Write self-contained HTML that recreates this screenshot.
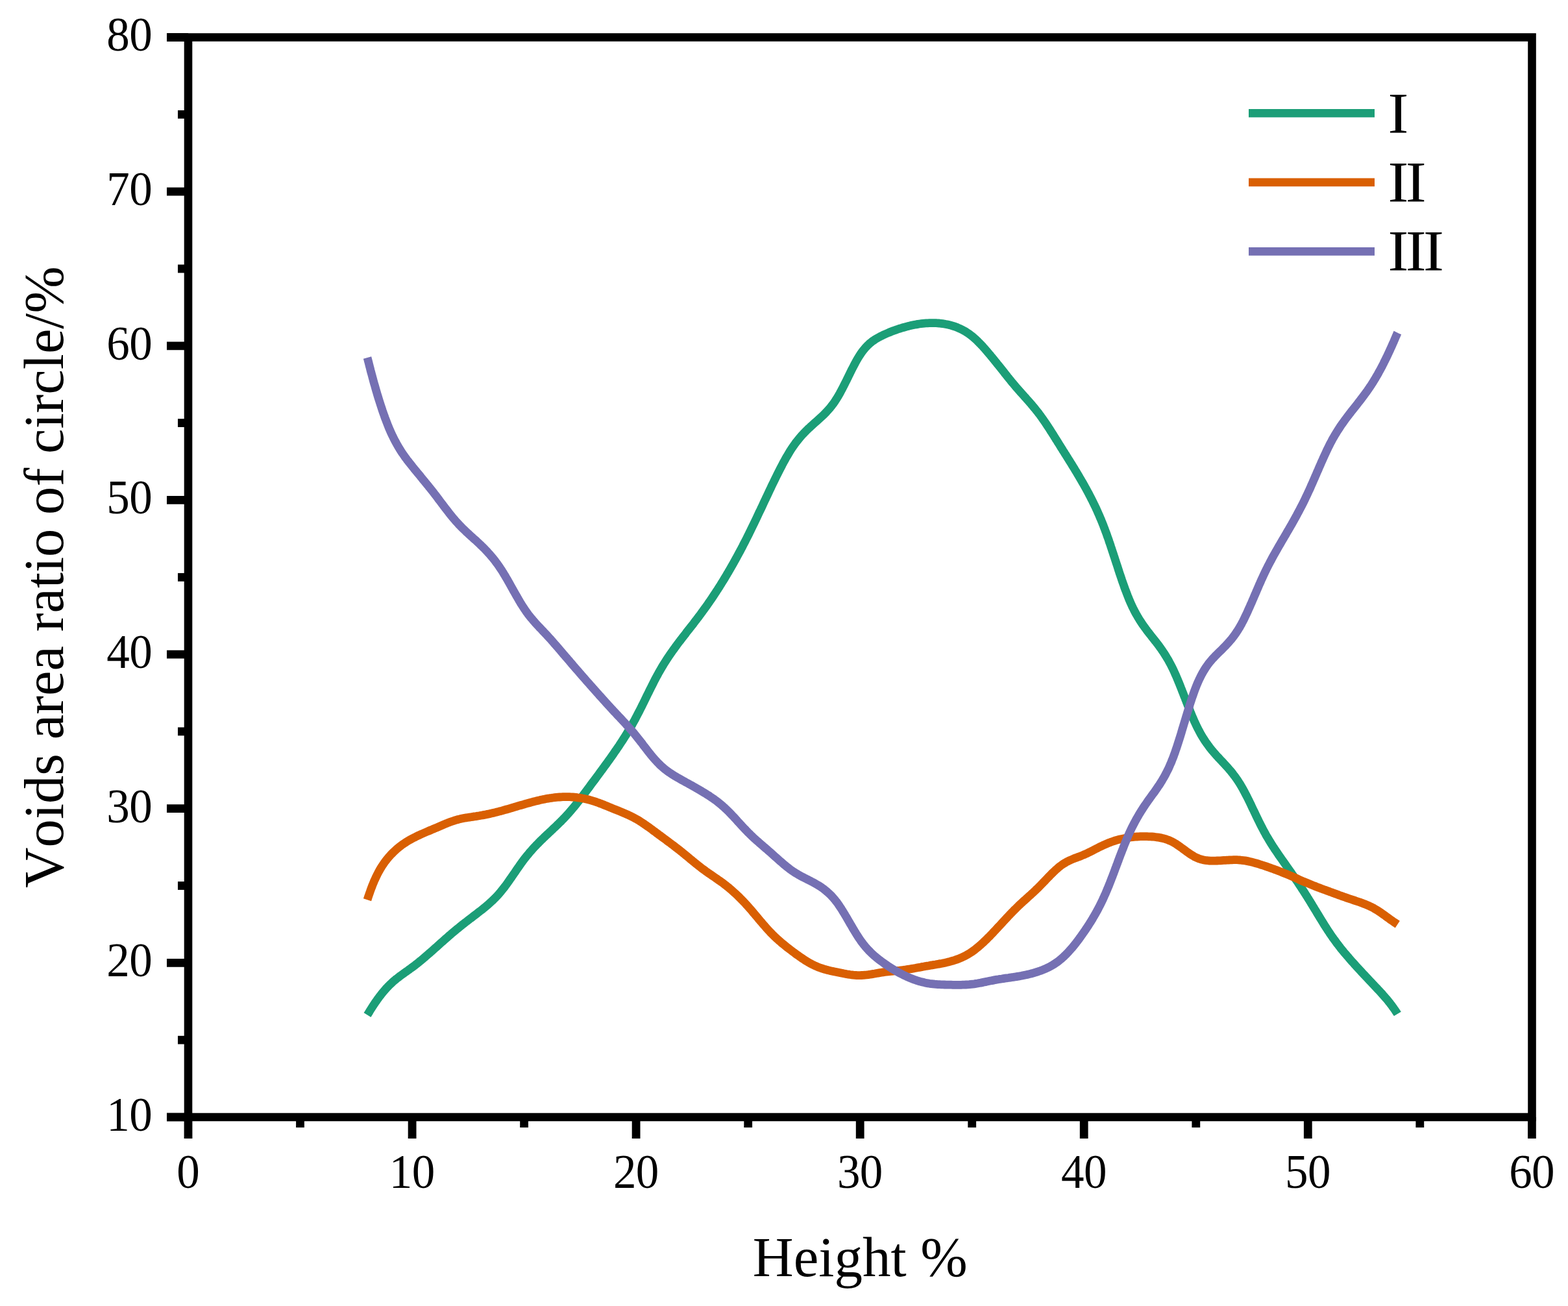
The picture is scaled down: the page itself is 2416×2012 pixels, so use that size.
<!DOCTYPE html>
<html><head><meta charset="utf-8"><style>
html,body{margin:0;padding:0;background:#fff;}
svg{display:block;}
.t{font-family:"Liberation Serif",serif;font-size:74px;fill:#000;font-kerning:none;}
.a{font-family:"Liberation Serif",serif;font-size:88px;fill:#000;font-kerning:none;}
.l{font-family:"Liberation Serif",serif;font-size:88.6px;fill:#000;}
</style></head><body>
<svg width="2416" height="2012" viewBox="0 0 2416 2012">
<rect width="2416" height="2012" fill="#fff"/>
<rect x="290.0" y="57.5" width="2070.5" height="1663.5" fill="none" stroke="#000" stroke-width="12.6"/>
<line x1="290.0" y1="1721" x2="290.0" y2="1754" stroke="#000" stroke-width="12.8"/>
<text transform="translate(290.00,1829.70) scale(0.960,1)" x="0.00" text-anchor="middle" class="t">0</text>
<line x1="462.5" y1="1721" x2="462.5" y2="1737" stroke="#000" stroke-width="12.8"/>
<line x1="635.1" y1="1721" x2="635.1" y2="1754" stroke="#000" stroke-width="12.8"/>
<text transform="translate(635.06,1829.70) scale(0.960,1)" x="-18.18 18.18" text-anchor="middle" class="t">10</text>
<line x1="807.6" y1="1721" x2="807.6" y2="1737" stroke="#000" stroke-width="12.8"/>
<line x1="980.1" y1="1721" x2="980.1" y2="1754" stroke="#000" stroke-width="12.8"/>
<text transform="translate(980.12,1829.70) scale(0.960,1)" x="-18.18 18.18" text-anchor="middle" class="t">20</text>
<line x1="1152.7" y1="1721" x2="1152.7" y2="1737" stroke="#000" stroke-width="12.8"/>
<line x1="1325.2" y1="1721" x2="1325.2" y2="1754" stroke="#000" stroke-width="12.8"/>
<text transform="translate(1325.18,1829.70) scale(0.960,1)" x="-18.18 18.18" text-anchor="middle" class="t">30</text>
<line x1="1497.7" y1="1721" x2="1497.7" y2="1737" stroke="#000" stroke-width="12.8"/>
<line x1="1670.2" y1="1721" x2="1670.2" y2="1754" stroke="#000" stroke-width="12.8"/>
<text transform="translate(1670.24,1829.70) scale(0.960,1)" x="-18.18 18.18" text-anchor="middle" class="t">40</text>
<line x1="1842.8" y1="1721" x2="1842.8" y2="1737" stroke="#000" stroke-width="12.8"/>
<line x1="2015.3" y1="1721" x2="2015.3" y2="1754" stroke="#000" stroke-width="12.8"/>
<text transform="translate(2015.30,1829.70) scale(0.960,1)" x="-18.18 18.18" text-anchor="middle" class="t">50</text>
<line x1="2187.8" y1="1721" x2="2187.8" y2="1737" stroke="#000" stroke-width="12.8"/>
<line x1="2360.4" y1="1721" x2="2360.4" y2="1754" stroke="#000" stroke-width="12.8"/>
<text transform="translate(2360.36,1829.70) scale(0.960,1)" x="-18.18 18.18" text-anchor="middle" class="t">60</text>
<line x1="257" y1="1721.0" x2="290" y2="1721.0" stroke="#000" stroke-width="12.8"/>
<text transform="translate(199.50,1741.80) scale(0.960,1)" x="-18.18 18.18" text-anchor="middle" class="t">10</text>
<line x1="274" y1="1602.2" x2="290" y2="1602.2" stroke="#000" stroke-width="12.8"/>
<line x1="257" y1="1483.4" x2="290" y2="1483.4" stroke="#000" stroke-width="12.8"/>
<text transform="translate(199.50,1504.16) scale(0.960,1)" x="-18.18 18.18" text-anchor="middle" class="t">20</text>
<line x1="274" y1="1364.5" x2="290" y2="1364.5" stroke="#000" stroke-width="12.8"/>
<line x1="257" y1="1245.7" x2="290" y2="1245.7" stroke="#000" stroke-width="12.8"/>
<text transform="translate(199.50,1266.52) scale(0.960,1)" x="-18.18 18.18" text-anchor="middle" class="t">30</text>
<line x1="274" y1="1126.9" x2="290" y2="1126.9" stroke="#000" stroke-width="12.8"/>
<line x1="257" y1="1008.1" x2="290" y2="1008.1" stroke="#000" stroke-width="12.8"/>
<text transform="translate(199.50,1028.88) scale(0.960,1)" x="-18.18 18.18" text-anchor="middle" class="t">40</text>
<line x1="274" y1="889.3" x2="290" y2="889.3" stroke="#000" stroke-width="12.8"/>
<line x1="257" y1="770.4" x2="290" y2="770.4" stroke="#000" stroke-width="12.8"/>
<text transform="translate(199.50,791.24) scale(0.960,1)" x="-18.18 18.18" text-anchor="middle" class="t">50</text>
<line x1="274" y1="651.6" x2="290" y2="651.6" stroke="#000" stroke-width="12.8"/>
<line x1="257" y1="532.8" x2="290" y2="532.8" stroke="#000" stroke-width="12.8"/>
<text transform="translate(199.50,553.60) scale(0.960,1)" x="-18.18 18.18" text-anchor="middle" class="t">60</text>
<line x1="274" y1="414.0" x2="290" y2="414.0" stroke="#000" stroke-width="12.8"/>
<line x1="257" y1="295.2" x2="290" y2="295.2" stroke="#000" stroke-width="12.8"/>
<text transform="translate(199.50,315.96) scale(0.960,1)" x="-18.18 18.18" text-anchor="middle" class="t">70</text>
<line x1="274" y1="176.3" x2="290" y2="176.3" stroke="#000" stroke-width="12.8"/>
<line x1="257" y1="57.5" x2="290" y2="57.5" stroke="#000" stroke-width="12.8"/>
<text transform="translate(199.50,78.32) scale(0.960,1)" x="-18.18 18.18" text-anchor="middle" class="t">80</text>
<path d="M566.0,1563.7 L567.3,1561.6 L568.7,1559.3 L570.0,1557.1 L571.4,1554.9 L572.7,1552.8 L574.1,1550.6 L575.6,1548.4 L577.0,1546.2 L578.4,1544.1 L579.9,1542.1 L581.4,1539.9 L582.9,1537.9 L584.4,1535.8 L586.0,1533.8 L587.6,1531.7 L589.1,1529.8 L590.8,1527.7 L592.5,1525.8 L594.1,1523.9 L595.9,1521.9 L597.6,1520.1 L599.4,1518.3 L601.2,1516.5 L603.0,1514.8 L604.9,1513.0 L606.8,1511.3 L608.8,1509.7 L610.8,1508.0 L612.8,1506.5 L614.8,1504.9 L616.8,1503.4 L618.9,1501.9 L621.0,1500.4 L623.0,1498.9 L625.1,1497.4 L627.2,1496.0 L629.2,1494.5 L631.3,1493.0 L633.3,1491.5 L635.4,1490.0 L637.5,1488.5 L639.5,1486.9 L641.5,1485.3 L643.5,1483.8 L645.5,1482.2 L647.5,1480.5 L649.5,1478.9 L651.4,1477.3 L653.4,1475.6 L655.3,1474.0 L657.2,1472.3 L659.1,1470.7 L661.0,1469.0 L663.0,1467.3 L664.9,1465.7 L666.8,1464.0 L668.7,1462.3 L670.6,1460.6 L672.5,1458.9 L674.4,1457.2 L676.3,1455.5 L678.2,1453.8 L680.1,1452.1 L682.0,1450.4 L683.9,1448.7 L685.8,1447.0 L687.7,1445.4 L689.6,1443.7 L691.5,1442.0 L693.4,1440.4 L695.3,1438.7 L697.2,1437.1 L699.2,1435.4 L701.2,1433.8 L703.2,1432.1 L705.2,1430.5 L707.2,1428.9 L709.1,1427.3 L711.1,1425.7 L713.1,1424.1 L715.1,1422.6 L717.1,1421.0 L719.1,1419.5 L721.0,1418.0 L723.0,1416.4 L725.1,1414.9 L727.2,1413.3 L729.2,1411.7 L731.3,1410.1 L733.3,1408.6 L735.3,1407.1 L737.2,1405.6 L739.2,1404.0 L741.2,1402.5 L743.2,1400.9 L745.2,1399.3 L747.2,1397.7 L749.1,1396.1 L751.1,1394.4 L753.0,1392.7 L754.9,1391.0 L756.8,1389.3 L758.7,1387.6 L760.5,1385.8 L762.3,1384.0 L764.1,1382.2 L765.9,1380.3 L767.6,1378.4 L769.3,1376.5 L771.0,1374.6 L772.6,1372.6 L774.2,1370.6 L775.8,1368.6 L777.4,1366.5 L778.9,1364.5 L780.4,1362.5 L781.9,1360.4 L783.4,1358.3 L784.9,1356.1 L786.4,1353.9 L787.9,1351.9 L789.3,1349.8 L790.7,1347.7 L792.2,1345.6 L793.6,1343.6 L795.0,1341.5 L796.4,1339.4 L797.9,1337.3 L799.3,1335.3 L800.8,1333.1 L802.3,1331.0 L803.8,1328.9 L805.3,1326.9 L806.8,1324.8 L808.4,1322.7 L810.0,1320.7 L811.6,1318.7 L813.2,1316.8 L814.9,1314.8 L816.5,1312.8 L818.2,1310.9 L819.9,1309.0 L821.6,1307.1 L823.3,1305.2 L825.1,1303.3 L826.8,1301.5 L828.6,1299.7 L830.4,1297.9 L832.2,1296.0 L834.1,1294.2 L835.9,1292.5 L837.7,1290.7 L839.5,1289.0 L841.4,1287.2 L843.2,1285.5 L845.0,1283.8 L846.8,1282.1 L848.7,1280.4 L850.5,1278.7 L852.3,1276.9 L854.1,1275.2 L856.0,1273.5 L857.8,1271.7 L859.6,1270.0 L861.4,1268.2 L863.3,1266.4 L865.1,1264.6 L866.9,1262.7 L868.7,1260.9 L870.4,1259.1 L872.2,1257.2 L873.9,1255.3 L875.6,1253.4 L877.3,1251.5 L879.0,1249.6 L880.6,1247.7 L882.3,1245.7 L884.0,1243.7 L885.6,1241.7 L887.2,1239.7 L888.7,1237.8 L890.3,1235.7 L891.9,1233.7 L893.5,1231.7 L895.1,1229.6 L896.7,1227.5 L898.3,1225.4 L899.8,1223.4 L901.3,1221.4 L902.8,1219.4 L904.3,1217.4 L905.8,1215.3 L907.3,1213.3 L908.8,1211.3 L910.3,1209.2 L911.8,1207.2 L913.3,1205.2 L914.9,1203.1 L916.4,1201.1 L917.9,1199.1 L919.4,1197.0 L920.9,1195.0 L922.4,1193.0 L923.9,1190.9 L925.4,1188.9 L926.9,1186.8 L928.4,1184.8 L929.9,1182.7 L931.4,1180.6 L932.9,1178.6 L934.5,1176.5 L936.0,1174.4 L937.5,1172.3 L939.0,1170.2 L940.5,1168.1 L942.0,1166.0 L943.5,1163.8 L945.0,1161.7 L946.5,1159.5 L947.9,1157.4 L949.4,1155.4 L950.8,1153.3 L952.2,1151.2 L953.7,1149.1 L955.1,1146.9 L956.5,1144.8 L957.9,1142.6 L959.4,1140.4 L960.8,1138.1 L962.2,1136.0 L963.5,1133.9 L964.9,1131.7 L966.2,1129.5 L967.5,1127.3 L968.9,1125.0 L970.2,1122.8 L971.5,1120.6 L972.8,1118.4 L974.1,1116.2 L975.3,1113.9 L976.6,1111.6 L977.9,1109.3 L979.1,1107.1 L980.2,1104.9 L981.4,1102.6 L982.6,1100.3 L983.8,1098.0 L985.0,1095.7 L986.2,1093.4 L987.4,1091.0 L988.6,1088.6 L989.8,1086.2 L990.9,1084.0 L992.0,1081.7 L993.1,1079.5 L994.2,1077.2 L995.3,1074.9 L996.4,1072.7 L997.5,1070.4 L998.7,1068.1 L999.8,1065.9 L1000.9,1063.6 L1002.0,1061.4 L1003.2,1059.0 L1004.4,1056.6 L1005.6,1054.3 L1006.8,1051.9 L1007.9,1049.6 L1009.1,1047.3 L1010.3,1045.0 L1011.5,1042.8 L1012.7,1040.6 L1014.0,1038.2 L1015.2,1035.9 L1016.5,1033.7 L1017.8,1031.5 L1019.1,1029.3 L1020.4,1027.0 L1021.8,1024.8 L1023.1,1022.6 L1024.5,1020.4 L1025.8,1018.3 L1027.2,1016.1 L1028.7,1013.9 L1030.1,1011.8 L1031.5,1009.7 L1032.9,1007.6 L1034.4,1005.5 L1035.9,1003.4 L1037.4,1001.3 L1038.9,999.2 L1040.4,997.1 L1041.9,995.1 L1043.4,993.0 L1044.9,991.0 L1046.4,989.0 L1048.0,987.0 L1049.6,984.9 L1051.2,982.8 L1052.8,980.8 L1054.4,978.7 L1056.0,976.7 L1057.5,974.6 L1059.1,972.6 L1060.7,970.6 L1062.3,968.5 L1063.9,966.5 L1065.5,964.4 L1067.1,962.4 L1068.7,960.4 L1070.2,958.3 L1071.8,956.2 L1073.4,954.2 L1075.0,952.1 L1076.6,950.0 L1078.1,948.0 L1079.6,946.0 L1081.1,943.9 L1082.6,941.9 L1084.1,939.8 L1085.6,937.7 L1087.2,935.6 L1088.7,933.5 L1090.2,931.4 L1091.7,929.2 L1093.1,927.1 L1094.5,925.1 L1096.0,923.0 L1097.4,920.9 L1098.8,918.7 L1100.2,916.6 L1101.7,914.4 L1103.1,912.2 L1104.5,910.0 L1106.0,907.8 L1107.3,905.7 L1108.7,903.6 L1110.0,901.5 L1111.4,899.3 L1112.7,897.1 L1114.1,894.9 L1115.4,892.7 L1116.8,890.5 L1118.1,888.3 L1119.5,886.0 L1120.8,883.7 L1122.1,881.6 L1123.3,879.4 L1124.6,877.2 L1125.9,875.0 L1127.2,872.8 L1128.4,870.6 L1129.7,868.3 L1131.0,866.1 L1132.2,863.8 L1133.5,861.5 L1134.8,859.2 L1136.0,856.9 L1137.3,854.6 L1138.5,852.3 L1139.7,850.1 L1140.9,847.9 L1142.1,845.6 L1143.3,843.4 L1144.5,841.1 L1145.6,838.8 L1146.8,836.5 L1148.0,834.2 L1149.2,831.9 L1150.4,829.5 L1151.6,827.1 L1152.8,824.8 L1154.0,822.4 L1155.1,820.1 L1156.2,817.9 L1157.3,815.6 L1158.4,813.3 L1159.5,811.0 L1160.6,808.7 L1161.8,806.4 L1162.9,804.1 L1164.0,801.8 L1165.1,799.5 L1166.2,797.1 L1167.3,794.8 L1168.4,792.4 L1169.5,790.1 L1170.6,787.7 L1171.8,785.4 L1172.9,783.0 L1174.0,780.7 L1175.1,778.3 L1176.2,775.9 L1177.3,773.6 L1178.4,771.2 L1179.5,768.9 L1180.6,766.5 L1181.8,764.1 L1182.9,761.8 L1184.0,759.4 L1185.1,757.1 L1186.2,754.7 L1187.3,752.4 L1188.4,750.1 L1189.5,747.7 L1190.6,745.4 L1191.8,743.1 L1192.9,740.8 L1194.0,738.5 L1195.1,736.2 L1196.2,734.0 L1197.3,731.7 L1198.5,729.3 L1199.7,727.0 L1200.9,724.6 L1202.1,722.3 L1203.3,720.0 L1204.5,717.7 L1205.6,715.5 L1206.8,713.2 L1208.1,710.9 L1209.4,708.6 L1210.6,706.3 L1211.9,704.1 L1213.2,701.9 L1214.5,699.7 L1215.8,697.5 L1217.1,695.3 L1218.5,693.1 L1219.9,690.9 L1221.4,688.8 L1222.8,686.7 L1224.3,684.6 L1225.8,682.5 L1227.4,680.4 L1229.0,678.4 L1230.6,676.4 L1232.2,674.4 L1233.9,672.5 L1235.6,670.6 L1237.3,668.7 L1239.1,666.9 L1240.8,665.1 L1242.6,663.3 L1244.4,661.5 L1246.3,659.7 L1248.2,658.0 L1250.1,656.2 L1252.0,654.5 L1253.9,652.8 L1255.8,651.1 L1257.7,649.4 L1259.6,647.7 L1261.5,646.0 L1263.4,644.3 L1265.3,642.6 L1267.1,640.9 L1269.0,639.1 L1270.8,637.3 L1272.5,635.5 L1274.3,633.6 L1276.0,631.7 L1277.7,629.8 L1279.4,627.8 L1281.0,625.8 L1282.5,623.7 L1284.1,621.7 L1285.6,619.6 L1287.0,617.5 L1288.4,615.3 L1289.8,613.1 L1291.1,610.9 L1292.4,608.7 L1293.7,606.5 L1294.9,604.2 L1296.1,602.0 L1297.3,599.7 L1298.5,597.5 L1299.7,595.1 L1300.9,592.8 L1302.1,590.4 L1303.3,588.0 L1304.4,585.8 L1305.5,583.5 L1306.6,581.3 L1307.7,579.0 L1308.8,576.8 L1309.9,574.5 L1311.1,572.1 L1312.3,569.7 L1313.5,567.4 L1314.7,565.1 L1315.9,562.8 L1317.1,560.5 L1318.3,558.3 L1319.5,556.0 L1320.8,553.8 L1322.1,551.6 L1323.4,549.4 L1324.8,547.2 L1326.2,545.1 L1327.7,542.9 L1329.2,540.9 L1330.8,538.8 L1332.5,536.8 L1334.1,535.0 L1335.9,533.1 L1337.7,531.3 L1339.6,529.5 L1341.5,527.9 L1343.5,526.3 L1345.6,524.8 L1347.7,523.4 L1349.8,522.0 L1352.1,520.7 L1354.3,519.5 L1356.5,518.3 L1358.8,517.2 L1361.1,516.1 L1363.4,515.0 L1365.7,514.0 L1368.0,513.0 L1370.4,512.0 L1372.8,511.0 L1375.2,510.1 L1377.5,509.2 L1379.9,508.4 L1382.3,507.5 L1384.7,506.7 L1387.1,506.0 L1389.5,505.2 L1392.0,504.5 L1394.4,503.8 L1396.9,503.1 L1399.4,502.5 L1401.8,501.9 L1404.3,501.3 L1406.7,500.8 L1409.2,500.3 L1411.7,499.9 L1414.2,499.4 L1416.7,499.0 L1419.3,498.7 L1421.8,498.4 L1424.4,498.1 L1426.9,497.9 L1429.4,497.8 L1432.0,497.7 L1434.5,497.6 L1437.1,497.6 L1439.6,497.6 L1442.1,497.7 L1444.7,497.8 L1447.2,498.0 L1449.8,498.3 L1452.3,498.6 L1454.8,499.0 L1457.4,499.5 L1459.8,499.9 L1462.3,500.5 L1464.8,501.1 L1467.2,501.8 L1469.7,502.6 L1472.1,503.4 L1474.4,504.3 L1476.8,505.3 L1479.1,506.3 L1481.4,507.4 L1483.7,508.6 L1485.9,509.8 L1488.1,511.1 L1490.2,512.5 L1492.4,513.9 L1494.4,515.4 L1496.5,517.0 L1498.5,518.6 L1500.5,520.2 L1502.4,521.9 L1504.3,523.7 L1506.1,525.4 L1507.9,527.2 L1509.8,529.1 L1511.5,530.9 L1513.3,532.7 L1515.0,534.7 L1516.7,536.6 L1518.4,538.5 L1520.1,540.4 L1521.7,542.3 L1523.4,544.3 L1525.1,546.3 L1526.7,548.3 L1528.4,550.3 L1530.0,552.3 L1531.6,554.2 L1533.2,556.2 L1534.8,558.2 L1536.3,560.2 L1537.9,562.1 L1539.5,564.1 L1541.1,566.1 L1542.7,568.1 L1544.3,570.1 L1545.9,572.1 L1547.5,574.1 L1549.0,576.1 L1550.6,578.1 L1552.2,580.1 L1553.8,582.0 L1555.4,584.0 L1557.0,585.9 L1558.6,587.9 L1560.2,589.9 L1561.9,591.9 L1563.6,593.9 L1565.2,595.8 L1566.9,597.8 L1568.6,599.7 L1570.2,601.6 L1571.9,603.5 L1573.6,605.3 L1575.2,607.2 L1577.0,609.1 L1578.7,611.1 L1580.5,613.0 L1582.1,614.9 L1583.8,616.8 L1585.5,618.7 L1587.1,620.6 L1588.8,622.5 L1590.5,624.5 L1592.1,626.5 L1593.8,628.5 L1595.4,630.4 L1597.0,632.4 L1598.6,634.4 L1600.2,636.5 L1601.7,638.5 L1603.2,640.5 L1604.7,642.6 L1606.2,644.7 L1607.7,646.9 L1609.1,648.9 L1610.6,651.0 L1612.0,653.1 L1613.4,655.3 L1614.8,657.4 L1616.3,659.6 L1617.7,661.8 L1619.1,664.1 L1620.5,666.2 L1621.8,668.3 L1623.2,670.4 L1624.5,672.6 L1625.9,674.7 L1627.2,676.9 L1628.6,679.0 L1629.9,681.2 L1631.3,683.4 L1632.6,685.5 L1634.0,687.7 L1635.3,689.9 L1636.7,692.0 L1638.0,694.2 L1639.4,696.3 L1640.7,698.5 L1642.1,700.6 L1643.4,702.8 L1644.8,704.9 L1646.1,707.1 L1647.5,709.3 L1648.8,711.4 L1650.2,713.6 L1651.5,715.8 L1652.9,718.0 L1654.2,720.1 L1655.6,722.3 L1656.9,724.6 L1658.3,726.8 L1659.6,729.0 L1661.0,731.3 L1662.3,733.5 L1663.6,735.8 L1664.9,738.0 L1666.2,740.2 L1667.5,742.4 L1668.7,744.6 L1670.0,746.8 L1671.3,749.1 L1672.5,751.3 L1673.8,753.6 L1675.1,756.0 L1676.3,758.2 L1677.5,760.4 L1678.6,762.6 L1679.8,764.9 L1681.0,767.2 L1682.2,769.6 L1683.4,771.9 L1684.5,774.2 L1685.6,776.5 L1686.7,778.8 L1687.9,781.1 L1689.0,783.5 L1690.1,786.0 L1691.1,788.2 L1692.1,790.6 L1693.2,792.9 L1694.2,795.3 L1695.2,797.7 L1696.3,800.2 L1697.3,802.7 L1698.3,805.0 L1699.2,807.4 L1700.2,809.8 L1701.1,812.3 L1702.1,814.8 L1703.0,817.3 L1703.9,819.7 L1704.8,822.1 L1705.6,824.5 L1706.5,826.9 L1707.4,829.4 L1708.3,831.9 L1709.1,834.5 L1710.0,837.0 L1710.9,839.6 L1711.7,842.2 L1712.5,844.6 L1713.3,847.0 L1714.1,849.4 L1714.9,851.8 L1715.7,854.3 L1716.5,856.7 L1717.3,859.1 L1718.1,861.6 L1718.9,864.0 L1719.7,866.4 L1720.5,868.9 L1721.3,871.3 L1722.1,873.7 L1722.9,876.2 L1723.6,878.6 L1724.4,881.0 L1725.2,883.4 L1726.0,885.8 L1726.9,888.4 L1727.8,891.0 L1728.6,893.5 L1729.5,896.1 L1730.4,898.6 L1731.3,901.1 L1732.1,903.5 L1733.0,906.0 L1733.9,908.4 L1734.8,910.7 L1735.7,913.2 L1736.7,915.7 L1737.6,918.1 L1738.6,920.5 L1739.5,922.8 L1740.6,925.3 L1741.6,927.7 L1742.6,930.0 L1743.7,932.4 L1744.8,934.8 L1745.9,937.0 L1747.1,939.4 L1748.3,941.7 L1749.5,944.0 L1750.8,946.3 L1752.1,948.5 L1753.3,950.7 L1754.7,953.0 L1756.0,955.1 L1757.4,957.3 L1758.8,959.4 L1760.2,961.6 L1761.7,963.6 L1763.2,965.7 L1764.7,967.8 L1766.2,969.9 L1767.7,971.9 L1769.3,973.9 L1770.9,976.0 L1772.5,978.0 L1774.0,980.0 L1775.6,982.0 L1777.2,984.0 L1778.8,986.0 L1780.4,988.1 L1782.0,990.1 L1783.6,992.2 L1785.1,994.2 L1786.6,996.2 L1788.1,998.3 L1789.6,1000.4 L1791.0,1002.5 L1792.5,1004.6 L1793.9,1006.8 L1795.3,1009.0 L1796.7,1011.2 L1798.0,1013.4 L1799.3,1015.6 L1800.6,1017.8 L1801.8,1020.1 L1803.0,1022.3 L1804.2,1024.5 L1805.4,1026.9 L1806.6,1029.2 L1807.7,1031.5 L1808.8,1033.9 L1809.9,1036.3 L1810.9,1038.6 L1812.0,1041.0 L1813.0,1043.4 L1814.0,1045.8 L1815.1,1048.3 L1816.0,1050.6 L1817.0,1052.9 L1817.9,1055.3 L1818.9,1057.7 L1819.8,1060.1 L1820.8,1062.5 L1821.7,1064.9 L1822.7,1067.4 L1823.6,1069.8 L1824.6,1072.3 L1825.6,1074.7 L1826.5,1077.2 L1827.5,1079.6 L1828.4,1082.1 L1829.4,1084.5 L1830.3,1086.9 L1831.3,1089.4 L1832.2,1091.7 L1833.2,1094.1 L1834.1,1096.5 L1835.1,1098.8 L1836.1,1101.3 L1837.1,1103.8 L1838.2,1106.2 L1839.2,1108.6 L1840.2,1110.9 L1841.3,1113.2 L1842.4,1115.6 L1843.5,1117.9 L1844.6,1120.2 L1845.8,1122.6 L1847.0,1124.9 L1848.2,1127.1 L1849.4,1129.5 L1850.7,1131.7 L1852.0,1133.9 L1853.3,1136.1 L1854.7,1138.3 L1856.1,1140.5 L1857.5,1142.6 L1859.0,1144.7 L1860.5,1146.8 L1862.0,1148.9 L1863.5,1150.9 L1865.1,1152.9 L1866.7,1154.9 L1868.3,1156.9 L1870.0,1158.9 L1871.7,1160.8 L1873.3,1162.7 L1875.1,1164.7 L1876.8,1166.6 L1878.6,1168.4 L1880.3,1170.3 L1882.1,1172.2 L1883.8,1174.0 L1885.6,1175.9 L1887.3,1177.8 L1889.0,1179.7 L1890.8,1181.6 L1892.5,1183.5 L1894.1,1185.4 L1895.8,1187.3 L1897.5,1189.4 L1899.0,1191.3 L1900.6,1193.4 L1902.2,1195.4 L1903.7,1197.5 L1905.2,1199.6 L1906.7,1201.7 L1908.1,1203.9 L1909.5,1206.1 L1910.9,1208.3 L1912.2,1210.5 L1913.5,1212.7 L1914.8,1214.9 L1916.0,1217.2 L1917.2,1219.4 L1918.4,1221.7 L1919.6,1224.0 L1920.8,1226.3 L1922.0,1228.6 L1923.2,1231.0 L1924.3,1233.3 L1925.4,1235.5 L1926.5,1237.8 L1927.6,1240.1 L1928.7,1242.4 L1929.8,1244.8 L1930.9,1247.1 L1932.1,1249.4 L1933.2,1251.7 L1934.3,1254.1 L1935.4,1256.4 L1936.5,1258.7 L1937.6,1261.0 L1938.7,1263.3 L1939.8,1265.5 L1940.9,1267.8 L1942.1,1270.2 L1943.3,1272.5 L1944.5,1274.8 L1945.7,1277.1 L1946.9,1279.4 L1948.1,1281.6 L1949.4,1283.9 L1950.6,1286.2 L1951.9,1288.4 L1953.2,1290.6 L1954.5,1292.8 L1955.9,1295.1 L1957.2,1297.3 L1958.6,1299.5 L1959.9,1301.6 L1961.3,1303.8 L1962.8,1306.0 L1964.2,1308.2 L1965.6,1310.3 L1967.1,1312.4 L1968.5,1314.5 L1969.9,1316.6 L1971.3,1318.7 L1972.9,1320.8 L1974.4,1323.0 L1975.9,1325.1 L1977.4,1327.2 L1978.9,1329.4 L1980.4,1331.5 L1981.9,1333.6 L1983.4,1335.8 L1984.9,1337.9 L1986.4,1340.1 L1987.9,1342.2 L1989.4,1344.3 L1990.8,1346.4 L1992.2,1348.4 L1993.6,1350.5 L1995.1,1352.6 L1996.5,1354.7 L1997.9,1356.8 L1999.4,1358.9 L2000.8,1361.1 L2002.2,1363.2 L2003.6,1365.4 L2005.1,1367.5 L2006.5,1369.7 L2007.9,1371.9 L2009.4,1374.1 L2010.8,1376.4 L2012.1,1378.5 L2013.5,1380.6 L2014.8,1382.8 L2016.2,1384.9 L2017.5,1387.1 L2018.9,1389.3 L2020.2,1391.5 L2021.6,1393.7 L2022.9,1395.9 L2024.3,1398.2 L2025.6,1400.4 L2027.0,1402.6 L2028.3,1404.8 L2029.7,1407.1 L2031.0,1409.3 L2032.4,1411.5 L2033.7,1413.7 L2035.1,1415.9 L2036.4,1418.1 L2037.8,1420.3 L2039.1,1422.5 L2040.5,1424.7 L2041.8,1426.8 L2043.2,1428.9 L2044.6,1431.1 L2046.0,1433.3 L2047.5,1435.5 L2048.9,1437.6 L2050.3,1439.7 L2051.7,1441.8 L2053.2,1444.0 L2054.8,1446.1 L2056.3,1448.2 L2057.8,1450.2 L2059.3,1452.3 L2060.8,1454.3 L2062.4,1456.3 L2064.0,1458.4 L2065.5,1460.4 L2067.1,1462.4 L2068.7,1464.3 L2070.3,1466.3 L2072.0,1468.3 L2073.6,1470.2 L2075.3,1472.2 L2077.0,1474.1 L2078.6,1476.1 L2080.3,1478.0 L2082.0,1479.9 L2083.6,1481.7 L2085.3,1483.6 L2087.1,1485.6 L2088.8,1487.5 L2090.5,1489.4 L2092.3,1491.3 L2094.0,1493.2 L2095.8,1495.1 L2097.5,1497.0 L2099.3,1498.9 L2101.0,1500.8 L2102.8,1502.6 L2104.5,1504.5 L2106.3,1506.3 L2108.0,1508.2 L2109.8,1510.1 L2111.5,1511.9 L2113.2,1513.7 L2115.0,1515.6 L2116.7,1517.4 L2118.5,1519.3 L2120.2,1521.1 L2122.0,1523.0 L2123.7,1524.8 L2125.5,1526.7 L2127.2,1528.6 L2129.0,1530.5 L2130.7,1532.5 L2132.4,1534.4 L2134.0,1536.3 L2135.7,1538.2 L2137.4,1540.2 L2139.0,1542.1 L2140.5,1544.1 L2142.1,1546.1 L2143.7,1548.2 L2145.2,1550.2 L2146.7,1552.3 L2148.2,1554.4 L2149.7,1556.5 L2151.1,1558.6 L2152.5,1560.7 L2153.3,1562.0" fill="none" stroke="#1b9e77" stroke-width="12.8" stroke-linejoin="round"/>
<path d="M566.0,1386.3 L566.8,1383.8 L567.6,1381.3 L568.4,1378.9 L569.3,1376.3 L570.2,1373.8 L571.0,1371.4 L571.9,1369.0 L572.9,1366.5 L573.8,1364.0 L574.8,1361.6 L575.8,1359.2 L576.8,1356.7 L577.9,1354.4 L579.0,1352.0 L580.1,1349.7 L581.2,1347.4 L582.4,1345.1 L583.6,1342.8 L584.9,1340.5 L586.1,1338.4 L587.5,1336.1 L588.8,1334.0 L590.3,1331.8 L591.7,1329.7 L593.2,1327.6 L594.7,1325.7 L596.3,1323.6 L598.0,1321.6 L599.6,1319.7 L601.4,1317.7 L603.1,1315.9 L604.9,1314.1 L606.7,1312.3 L608.5,1310.6 L610.4,1308.8 L612.3,1307.2 L614.3,1305.6 L616.3,1304.0 L618.3,1302.4 L620.4,1300.9 L622.5,1299.5 L624.6,1298.1 L626.8,1296.7 L628.9,1295.4 L631.1,1294.1 L633.3,1292.9 L635.6,1291.7 L637.8,1290.5 L640.1,1289.4 L642.4,1288.2 L644.7,1287.1 L647.0,1286.1 L649.3,1285.0 L651.6,1284.0 L653.9,1283.0 L656.2,1282.0 L658.5,1281.0 L660.9,1280.0 L663.3,1279.0 L665.6,1278.0 L668.0,1277.0 L670.3,1276.0 L672.6,1275.1 L674.9,1274.1 L677.2,1273.1 L679.5,1272.1 L681.8,1271.1 L684.1,1270.1 L686.5,1269.1 L688.9,1268.2 L691.3,1267.2 L693.7,1266.3 L696.0,1265.5 L698.4,1264.7 L700.8,1263.9 L703.3,1263.2 L705.7,1262.5 L708.2,1261.9 L710.6,1261.3 L713.1,1260.8 L715.6,1260.3 L718.1,1259.9 L720.6,1259.5 L723.2,1259.1 L725.7,1258.7 L728.3,1258.3 L730.8,1257.9 L733.3,1257.6 L735.9,1257.2 L738.4,1256.8 L741.0,1256.3 L743.5,1255.9 L746.0,1255.4 L748.4,1254.9 L750.9,1254.4 L753.3,1253.9 L755.8,1253.4 L758.3,1252.8 L760.7,1252.2 L763.2,1251.6 L765.6,1251.0 L768.1,1250.4 L770.6,1249.7 L773.0,1249.1 L775.5,1248.4 L777.9,1247.7 L780.4,1247.0 L782.9,1246.3 L785.3,1245.6 L787.8,1244.9 L790.3,1244.1 L792.7,1243.4 L795.2,1242.7 L797.6,1241.9 L800.1,1241.2 L802.6,1240.5 L805.0,1239.8 L807.5,1239.1 L809.9,1238.3 L812.4,1237.6 L814.9,1237.0 L817.3,1236.3 L819.8,1235.6 L822.2,1235.0 L824.7,1234.4 L827.2,1233.8 L829.6,1233.2 L832.1,1232.6 L834.5,1232.1 L837.0,1231.5 L839.5,1231.1 L841.9,1230.6 L844.5,1230.1 L847.0,1229.7 L849.5,1229.4 L852.1,1229.0 L854.6,1228.7 L857.2,1228.4 L859.7,1228.2 L862.2,1228.0 L864.8,1227.8 L867.3,1227.7 L869.9,1227.7 L872.4,1227.6 L874.9,1227.7 L877.5,1227.7 L880.0,1227.8 L882.6,1228.0 L885.1,1228.2 L887.6,1228.4 L890.2,1228.8 L892.7,1229.1 L895.2,1229.5 L897.8,1230.0 L900.2,1230.4 L902.7,1231.0 L905.2,1231.5 L907.6,1232.2 L910.1,1232.9 L912.6,1233.6 L915.0,1234.3 L917.4,1235.1 L919.8,1236.0 L922.2,1236.8 L924.5,1237.7 L926.9,1238.6 L929.3,1239.5 L931.7,1240.5 L934.1,1241.4 L936.4,1242.4 L938.8,1243.4 L941.2,1244.3 L943.6,1245.3 L946.0,1246.3 L948.3,1247.2 L950.7,1248.2 L953.1,1249.1 L955.5,1250.1 L957.9,1251.1 L960.2,1252.1 L962.6,1253.1 L964.9,1254.1 L967.2,1255.1 L969.5,1256.2 L971.8,1257.3 L974.1,1258.4 L976.4,1259.6 L978.6,1260.8 L980.8,1262.0 L983.0,1263.3 L985.2,1264.6 L987.3,1266.0 L989.5,1267.4 L991.6,1268.8 L993.7,1270.3 L995.8,1271.7 L997.9,1273.2 L999.9,1274.6 L1002.0,1276.1 L1004.1,1277.6 L1006.1,1279.2 L1008.2,1280.7 L1010.2,1282.2 L1012.3,1283.8 L1014.4,1285.3 L1016.4,1286.8 L1018.5,1288.3 L1020.6,1289.9 L1022.6,1291.4 L1024.7,1292.9 L1026.8,1294.4 L1028.8,1296.0 L1030.9,1297.5 L1032.9,1299.0 L1035.0,1300.6 L1037.1,1302.1 L1039.1,1303.7 L1041.2,1305.3 L1043.2,1306.8 L1045.2,1308.4 L1047.2,1309.9 L1049.1,1311.5 L1051.1,1313.1 L1053.1,1314.7 L1055.1,1316.3 L1057.1,1318.0 L1059.1,1319.6 L1061.0,1321.2 L1063.0,1322.9 L1065.0,1324.5 L1067.0,1326.2 L1069.0,1327.8 L1071.0,1329.4 L1072.9,1331.0 L1074.9,1332.6 L1076.9,1334.2 L1078.9,1335.7 L1080.9,1337.3 L1082.9,1338.8 L1085.0,1340.3 L1087.1,1341.8 L1089.1,1343.3 L1091.2,1344.8 L1093.3,1346.2 L1095.3,1347.6 L1097.5,1349.1 L1099.6,1350.5 L1101.8,1352.0 L1103.8,1353.4 L1105.9,1354.8 L1107.9,1356.3 L1110.0,1357.7 L1112.1,1359.2 L1114.1,1360.7 L1116.2,1362.3 L1118.2,1363.8 L1120.2,1365.4 L1122.2,1367.0 L1124.1,1368.6 L1126.1,1370.3 L1128.0,1372.0 L1129.9,1373.7 L1131.8,1375.4 L1133.7,1377.1 L1135.6,1378.9 L1137.4,1380.6 L1139.2,1382.4 L1141.0,1384.2 L1142.9,1386.1 L1144.6,1387.9 L1146.4,1389.7 L1148.1,1391.6 L1149.8,1393.5 L1151.6,1395.4 L1153.3,1397.3 L1154.9,1399.2 L1156.6,1401.1 L1158.3,1403.0 L1159.9,1405.0 L1161.6,1407.0 L1163.3,1408.9 L1164.9,1410.9 L1166.6,1412.9 L1168.3,1414.9 L1169.9,1416.9 L1171.6,1418.9 L1173.3,1420.8 L1174.9,1422.8 L1176.6,1424.7 L1178.3,1426.6 L1179.9,1428.5 L1181.6,1430.4 L1183.3,1432.3 L1185.1,1434.2 L1186.8,1436.1 L1188.6,1437.9 L1190.4,1439.7 L1192.2,1441.5 L1194.1,1443.3 L1195.9,1445.0 L1197.8,1446.8 L1199.7,1448.5 L1201.6,1450.1 L1203.5,1451.8 L1205.5,1453.5 L1207.5,1455.1 L1209.5,1456.7 L1211.4,1458.3 L1213.4,1459.9 L1215.4,1461.4 L1217.5,1463.0 L1219.5,1464.5 L1221.6,1466.1 L1223.7,1467.6 L1225.7,1469.2 L1227.8,1470.7 L1229.8,1472.1 L1231.9,1473.6 L1234.0,1475.0 L1236.1,1476.5 L1238.3,1477.9 L1240.4,1479.3 L1242.5,1480.7 L1244.7,1481.9 L1246.9,1483.2 L1249.1,1484.5 L1251.4,1485.7 L1253.7,1486.8 L1256.0,1487.9 L1258.3,1488.9 L1260.6,1489.9 L1263.0,1490.8 L1265.4,1491.6 L1267.8,1492.4 L1270.2,1493.2 L1272.7,1493.8 L1275.2,1494.5 L1277.6,1495.1 L1280.1,1495.7 L1282.5,1496.2 L1285.0,1496.8 L1287.5,1497.3 L1289.9,1497.8 L1292.4,1498.3 L1294.8,1498.8 L1297.3,1499.3 L1299.8,1499.8 L1302.2,1500.2 L1304.8,1500.7 L1307.3,1501.1 L1309.8,1501.5 L1312.4,1501.8 L1314.9,1502.1 L1317.5,1502.3 L1320.0,1502.5 L1322.5,1502.6 L1325.1,1502.6 L1327.6,1502.5 L1330.2,1502.4 L1332.7,1502.1 L1335.2,1501.9 L1337.8,1501.6 L1340.3,1501.2 L1342.9,1500.8 L1345.4,1500.4 L1347.9,1500.0 L1350.5,1499.5 L1353.0,1499.1 L1355.6,1498.7 L1358.1,1498.3 L1360.6,1497.9 L1363.2,1497.5 L1365.7,1497.2 L1368.3,1496.9 L1370.8,1496.6 L1373.3,1496.4 L1375.9,1496.1 L1378.4,1495.9 L1381.0,1495.6 L1383.5,1495.3 L1386.0,1495.1 L1388.6,1494.8 L1391.1,1494.5 L1393.7,1494.2 L1396.2,1493.8 L1398.7,1493.4 L1401.3,1493.0 L1403.8,1492.6 L1406.4,1492.2 L1408.9,1491.7 L1411.4,1491.3 L1413.8,1490.8 L1416.3,1490.4 L1418.7,1489.9 L1421.2,1489.4 L1423.7,1489.0 L1426.1,1488.5 L1428.7,1488.1 L1431.2,1487.7 L1433.7,1487.2 L1436.3,1486.8 L1438.8,1486.4 L1441.4,1486.0 L1443.9,1485.5 L1446.4,1485.1 L1448.9,1484.6 L1451.4,1484.2 L1453.8,1483.7 L1456.3,1483.2 L1458.7,1482.6 L1461.2,1482.0 L1463.7,1481.4 L1466.1,1480.7 L1468.6,1480.0 L1471.0,1479.2 L1473.4,1478.4 L1475.8,1477.6 L1478.2,1476.6 L1480.6,1475.6 L1482.9,1474.6 L1485.2,1473.5 L1487.5,1472.3 L1489.7,1471.1 L1491.9,1469.9 L1494.0,1468.6 L1496.2,1467.2 L1498.3,1465.7 L1500.4,1464.2 L1502.5,1462.7 L1504.4,1461.1 L1506.4,1459.5 L1508.4,1457.8 L1510.3,1456.2 L1512.2,1454.5 L1514.1,1452.8 L1516.0,1451.0 L1517.9,1449.2 L1519.7,1447.5 L1521.5,1445.6 L1523.3,1443.8 L1525.2,1442.0 L1526.9,1440.2 L1528.7,1438.3 L1530.4,1436.5 L1532.1,1434.7 L1533.9,1432.8 L1535.6,1430.9 L1537.4,1429.0 L1539.1,1427.2 L1540.9,1425.3 L1542.6,1423.4 L1544.4,1421.5 L1546.1,1419.6 L1547.9,1417.7 L1549.6,1415.8 L1551.3,1414.0 L1553.1,1412.1 L1554.8,1410.2 L1556.6,1408.4 L1558.3,1406.6 L1560.1,1404.8 L1561.9,1402.9 L1563.7,1401.1 L1565.6,1399.3 L1567.4,1397.5 L1569.2,1395.7 L1571.0,1394.0 L1572.9,1392.2 L1574.8,1390.5 L1576.7,1388.7 L1578.7,1387.0 L1580.6,1385.3 L1582.5,1383.5 L1584.4,1381.8 L1586.3,1380.1 L1588.2,1378.4 L1590.1,1376.6 L1592.0,1374.9 L1593.9,1373.1 L1595.7,1371.4 L1597.5,1369.6 L1599.4,1367.9 L1601.2,1366.0 L1603.0,1364.2 L1604.8,1362.3 L1606.6,1360.5 L1608.3,1358.7 L1610.1,1356.9 L1611.8,1355.0 L1613.6,1353.2 L1615.3,1351.4 L1617.1,1349.6 L1618.9,1347.7 L1620.7,1345.9 L1622.5,1344.1 L1624.4,1342.3 L1626.2,1340.6 L1628.1,1338.9 L1630.0,1337.2 L1632.0,1335.6 L1634.0,1334.0 L1636.0,1332.5 L1638.2,1331.0 L1640.3,1329.7 L1642.5,1328.4 L1644.8,1327.2 L1647.1,1326.1 L1649.4,1325.0 L1651.7,1324.0 L1654.0,1323.0 L1656.4,1322.1 L1658.8,1321.2 L1661.2,1320.3 L1663.6,1319.4 L1666.0,1318.5 L1668.3,1317.5 L1670.7,1316.5 L1673.0,1315.5 L1675.3,1314.4 L1677.6,1313.3 L1679.9,1312.2 L1682.2,1311.1 L1684.5,1309.9 L1686.8,1308.7 L1689.0,1307.5 L1691.3,1306.4 L1693.6,1305.2 L1696.0,1304.0 L1698.3,1302.9 L1700.6,1301.8 L1702.9,1300.8 L1705.2,1299.8 L1707.5,1298.8 L1709.9,1297.9 L1712.3,1297.0 L1714.7,1296.2 L1717.1,1295.4 L1719.5,1294.6 L1722.0,1293.9 L1724.4,1293.3 L1726.9,1292.7 L1729.4,1292.2 L1731.8,1291.7 L1734.3,1291.2 L1736.8,1290.8 L1739.4,1290.4 L1741.9,1290.0 L1744.4,1289.7 L1747.0,1289.4 L1749.5,1289.2 L1752.1,1289.0 L1754.6,1288.9 L1757.1,1288.7 L1759.7,1288.7 L1762.2,1288.6 L1764.8,1288.6 L1767.3,1288.7 L1769.8,1288.8 L1772.4,1288.9 L1774.9,1289.0 L1777.5,1289.2 L1780.0,1289.5 L1782.5,1289.8 L1785.1,1290.2 L1787.6,1290.6 L1790.1,1291.1 L1792.5,1291.7 L1795.0,1292.4 L1797.5,1293.2 L1799.8,1294.0 L1802.2,1295.0 L1804.5,1296.0 L1806.8,1297.2 L1809.0,1298.4 L1811.3,1299.7 L1813.4,1301.1 L1815.6,1302.6 L1817.6,1304.0 L1819.7,1305.5 L1821.7,1307.0 L1823.8,1308.5 L1825.9,1310.0 L1827.9,1311.6 L1830.0,1313.0 L1832.1,1314.5 L1834.2,1316.0 L1836.3,1317.3 L1838.5,1318.6 L1840.7,1319.9 L1843.0,1321.0 L1845.3,1322.1 L1847.7,1323.0 L1850.1,1323.8 L1852.5,1324.4 L1855.0,1325.0 L1857.5,1325.4 L1860.1,1325.7 L1862.6,1326.0 L1865.2,1326.1 L1867.7,1326.2 L1870.2,1326.2 L1872.8,1326.1 L1875.3,1326.0 L1877.9,1325.9 L1880.4,1325.8 L1882.9,1325.6 L1885.5,1325.4 L1888.0,1325.3 L1890.6,1325.1 L1893.1,1325.0 L1895.6,1324.8 L1898.2,1324.8 L1900.7,1324.7 L1903.2,1324.7 L1905.8,1324.7 L1908.3,1324.8 L1910.9,1325.0 L1913.4,1325.3 L1915.9,1325.6 L1918.5,1325.9 L1921.0,1326.4 L1923.5,1326.9 L1925.9,1327.4 L1928.4,1328.0 L1930.9,1328.6 L1933.3,1329.3 L1935.8,1330.0 L1938.2,1330.7 L1940.7,1331.5 L1943.2,1332.3 L1945.5,1333.0 L1947.9,1333.8 L1950.3,1334.6 L1952.7,1335.4 L1955.1,1336.3 L1957.5,1337.1 L1959.8,1338.0 L1962.2,1338.8 L1964.6,1339.7 L1967.0,1340.6 L1969.4,1341.5 L1971.7,1342.4 L1974.1,1343.3 L1976.5,1344.3 L1978.9,1345.3 L1981.3,1346.2 L1983.6,1347.2 L1986.0,1348.2 L1988.3,1349.2 L1990.6,1350.2 L1992.9,1351.2 L1995.2,1352.2 L1997.5,1353.2 L1999.8,1354.2 L2002.1,1355.3 L2004.4,1356.3 L2006.7,1357.3 L2009.0,1358.3 L2011.3,1359.2 L2013.7,1360.2 L2016.1,1361.2 L2018.5,1362.2 L2020.9,1363.2 L2023.2,1364.1 L2025.6,1365.0 L2028.0,1366.0 L2030.4,1366.9 L2032.8,1367.8 L2035.2,1368.7 L2037.5,1369.6 L2039.9,1370.5 L2042.3,1371.3 L2044.7,1372.2 L2047.1,1373.1 L2049.4,1374.0 L2051.8,1374.8 L2054.2,1375.7 L2056.6,1376.6 L2059.0,1377.4 L2061.3,1378.3 L2063.7,1379.2 L2066.1,1380.0 L2068.5,1380.9 L2070.9,1381.7 L2073.2,1382.5 L2075.6,1383.4 L2078.0,1384.2 L2080.4,1385.0 L2082.8,1385.8 L2085.2,1386.6 L2087.5,1387.4 L2089.9,1388.2 L2092.3,1389.0 L2094.7,1389.8 L2097.1,1390.6 L2099.4,1391.5 L2101.8,1392.4 L2104.2,1393.3 L2106.6,1394.3 L2108.9,1395.3 L2111.2,1396.4 L2113.5,1397.5 L2115.7,1398.6 L2117.9,1399.9 L2120.1,1401.2 L2122.3,1402.5 L2124.4,1403.9 L2126.6,1405.3 L2128.6,1406.7 L2130.7,1408.2 L2132.8,1409.7 L2134.8,1411.2 L2136.9,1412.7 L2139.0,1414.2 L2141.0,1415.7 L2143.1,1417.2 L2145.1,1418.6 L2147.2,1420.1 L2149.4,1421.5 L2151.5,1422.9 L2153.3,1424.1" fill="none" stroke="#d95f02" stroke-width="12.8" stroke-linejoin="round"/>
<path d="M566.0,551.0 L566.7,553.5 L567.3,556.1 L568.0,558.6 L568.6,561.1 L569.2,563.5 L569.9,566.0 L570.5,568.4 L571.1,570.9 L571.8,573.6 L572.6,576.3 L573.3,578.9 L574.0,581.6 L574.7,584.2 L575.4,586.8 L576.1,589.4 L576.8,591.9 L577.6,594.4 L578.3,596.9 L579.0,599.4 L579.7,601.9 L580.4,604.3 L581.1,606.7 L581.9,609.4 L582.7,612.0 L583.5,614.6 L584.3,617.1 L585.1,619.6 L585.9,622.1 L586.7,624.6 L587.5,627.0 L588.3,629.4 L589.1,632.0 L590.0,634.6 L590.9,637.1 L591.8,639.6 L592.6,642.0 L593.5,644.4 L594.4,646.7 L595.3,649.2 L596.3,651.7 L597.2,654.1 L598.2,656.5 L599.1,658.8 L600.2,661.3 L601.2,663.6 L602.2,666.0 L603.3,668.4 L604.5,670.8 L605.6,673.1 L606.7,675.3 L607.9,677.7 L609.1,679.9 L610.3,682.1 L611.5,684.4 L612.8,686.7 L614.1,688.8 L615.4,691.0 L616.8,693.2 L618.1,695.3 L619.5,697.5 L621.0,699.6 L622.4,701.6 L623.9,703.8 L625.4,705.8 L626.9,707.9 L628.5,709.9 L630.1,712.0 L631.7,714.0 L633.3,716.0 L634.9,718.0 L636.4,720.0 L638.0,721.9 L639.6,723.9 L641.2,725.8 L642.8,727.8 L644.4,729.7 L646.0,731.6 L647.6,733.6 L649.1,735.5 L650.7,737.4 L652.3,739.4 L653.9,741.3 L655.5,743.3 L657.1,745.2 L658.7,747.2 L660.3,749.1 L661.8,751.1 L663.4,753.1 L665.0,755.1 L666.6,757.1 L668.2,759.1 L669.8,761.2 L671.4,763.2 L673.0,765.3 L674.5,767.4 L676.1,769.5 L677.6,771.5 L679.1,773.5 L680.6,775.5 L682.2,777.5 L683.7,779.6 L685.3,781.7 L686.9,783.7 L688.5,785.8 L690.1,787.8 L691.7,789.9 L693.3,791.9 L694.9,793.9 L696.4,795.8 L698.1,797.8 L699.8,799.8 L701.4,801.8 L703.1,803.7 L704.9,805.6 L706.6,807.5 L708.3,809.3 L710.1,811.1 L711.9,813.0 L713.7,814.8 L715.6,816.5 L717.4,818.3 L719.2,820.0 L721.1,821.7 L723.0,823.5 L724.9,825.2 L726.8,826.9 L728.7,828.7 L730.6,830.4 L732.6,832.1 L734.5,833.8 L736.4,835.6 L738.3,837.4 L740.1,839.1 L741.9,840.9 L743.7,842.6 L745.6,844.5 L747.4,846.3 L749.1,848.1 L750.9,850.0 L752.6,851.9 L754.3,853.8 L756.0,855.7 L757.6,857.7 L759.3,859.7 L760.9,861.6 L762.5,863.7 L764.1,865.8 L765.6,867.8 L767.1,869.9 L768.6,872.0 L770.0,874.1 L771.4,876.2 L772.9,878.4 L774.2,880.5 L775.6,882.7 L776.9,884.9 L778.3,887.2 L779.6,889.5 L780.9,891.6 L782.2,893.8 L783.4,896.1 L784.7,898.3 L786.0,900.6 L787.2,902.8 L788.5,905.1 L789.8,907.4 L791.0,909.6 L792.3,911.9 L793.6,914.2 L794.9,916.4 L796.1,918.6 L797.4,920.8 L798.7,923.0 L799.9,925.2 L801.3,927.5 L802.6,929.7 L804.0,931.9 L805.3,934.0 L806.8,936.2 L808.2,938.4 L809.6,940.4 L811.1,942.6 L812.6,944.6 L814.1,946.7 L815.7,948.7 L817.3,950.7 L818.9,952.7 L820.6,954.7 L822.2,956.6 L823.9,958.5 L825.6,960.4 L827.3,962.3 L829.1,964.2 L830.8,966.1 L832.6,967.9 L834.3,969.7 L836.0,971.6 L837.8,973.4 L839.5,975.3 L841.3,977.1 L843.0,979.0 L844.8,980.9 L846.5,982.8 L848.3,984.7 L850.0,986.7 L851.7,988.6 L853.3,990.5 L855.0,992.4 L856.7,994.3 L858.3,996.2 L860.0,998.1 L861.7,1000.1 L863.3,1002.0 L865.0,1004.0 L866.7,1005.9 L868.3,1007.9 L870.0,1009.8 L871.7,1011.8 L873.3,1013.7 L875.0,1015.7 L876.7,1017.6 L878.3,1019.6 L880.0,1021.5 L881.7,1023.5 L883.3,1025.4 L885.0,1027.3 L886.7,1029.3 L888.3,1031.2 L890.0,1033.1 L891.7,1035.0 L893.3,1036.9 L895.0,1038.8 L896.7,1040.8 L898.3,1042.7 L900.0,1044.6 L901.7,1046.5 L903.3,1048.4 L905.0,1050.3 L906.7,1052.1 L908.3,1054.0 L910.0,1055.9 L911.7,1057.8 L913.3,1059.7 L915.0,1061.6 L916.7,1063.5 L918.3,1065.3 L920.0,1067.2 L921.7,1069.1 L923.3,1070.9 L925.1,1072.9 L926.8,1074.8 L928.6,1076.8 L930.3,1078.7 L932.1,1080.6 L933.8,1082.6 L935.6,1084.5 L937.3,1086.4 L939.1,1088.3 L940.8,1090.2 L942.5,1092.1 L944.3,1094.0 L946.0,1095.9 L947.8,1097.7 L949.5,1099.6 L951.3,1101.5 L953.0,1103.3 L954.8,1105.2 L956.5,1107.0 L958.3,1108.9 L960.0,1110.8 L961.8,1112.7 L963.5,1114.6 L965.2,1116.5 L967.0,1118.4 L968.7,1120.4 L970.4,1122.3 L972.1,1124.2 L973.7,1126.1 L975.4,1128.0 L977.1,1130.0 L978.7,1132.0 L980.3,1134.0 L981.9,1136.0 L983.5,1138.0 L985.1,1140.0 L986.7,1142.0 L988.3,1144.1 L989.9,1146.1 L991.4,1148.2 L993.0,1150.2 L994.6,1152.3 L996.2,1154.3 L997.8,1156.4 L999.4,1158.4 L1001.0,1160.4 L1002.5,1162.4 L1004.1,1164.3 L1005.8,1166.3 L1007.5,1168.3 L1009.1,1170.2 L1010.9,1172.1 L1012.6,1174.0 L1014.4,1175.8 L1016.2,1177.6 L1018.0,1179.4 L1019.9,1181.1 L1021.8,1182.8 L1023.8,1184.4 L1025.8,1186.0 L1027.9,1187.6 L1029.9,1189.1 L1032.0,1190.5 L1034.1,1191.9 L1036.3,1193.3 L1038.4,1194.7 L1040.6,1196.0 L1042.8,1197.3 L1045.0,1198.5 L1047.2,1199.8 L1049.5,1201.1 L1051.7,1202.3 L1053.9,1203.5 L1056.1,1204.8 L1058.3,1206.0 L1060.6,1207.2 L1062.8,1208.5 L1065.0,1209.7 L1067.2,1210.9 L1069.5,1212.2 L1071.7,1213.4 L1073.9,1214.7 L1076.1,1216.0 L1078.3,1217.3 L1080.6,1218.6 L1082.8,1219.9 L1084.9,1221.2 L1087.1,1222.5 L1089.2,1223.9 L1091.4,1225.2 L1093.5,1226.6 L1095.6,1228.1 L1097.7,1229.5 L1099.8,1230.9 L1101.8,1232.4 L1103.9,1233.9 L1106.0,1235.5 L1107.9,1237.1 L1109.9,1238.7 L1111.9,1240.4 L1113.8,1242.0 L1115.7,1243.7 L1117.6,1245.5 L1119.5,1247.2 L1121.3,1249.0 L1123.1,1250.8 L1124.9,1252.6 L1126.7,1254.5 L1128.4,1256.3 L1130.2,1258.2 L1131.9,1260.0 L1133.7,1261.9 L1135.4,1263.8 L1137.1,1265.8 L1138.9,1267.7 L1140.6,1269.6 L1142.4,1271.5 L1144.1,1273.4 L1145.9,1275.3 L1147.6,1277.1 L1149.4,1278.9 L1151.1,1280.8 L1152.9,1282.6 L1154.8,1284.4 L1156.6,1286.2 L1158.4,1288.0 L1160.2,1289.7 L1162.1,1291.4 L1164.1,1293.2 L1166.0,1294.9 L1167.9,1296.6 L1169.8,1298.3 L1171.7,1299.9 L1173.6,1301.6 L1175.5,1303.2 L1177.4,1304.9 L1179.3,1306.5 L1181.2,1308.1 L1183.1,1309.8 L1185.0,1311.4 L1186.9,1313.1 L1188.8,1314.8 L1190.7,1316.5 L1192.6,1318.2 L1194.5,1319.9 L1196.4,1321.6 L1198.3,1323.3 L1200.2,1325.0 L1202.1,1326.7 L1204.1,1328.3 L1206.0,1330.0 L1207.9,1331.7 L1209.9,1333.3 L1211.9,1334.9 L1213.9,1336.5 L1215.9,1338.1 L1217.9,1339.6 L1220.0,1341.1 L1222.1,1342.5 L1224.2,1343.9 L1226.4,1345.3 L1228.6,1346.6 L1230.8,1347.9 L1233.0,1349.1 L1235.2,1350.3 L1237.5,1351.5 L1239.8,1352.7 L1242.1,1353.8 L1244.4,1355.0 L1246.7,1356.2 L1249.0,1357.3 L1251.2,1358.5 L1253.4,1359.7 L1255.6,1360.9 L1257.9,1362.2 L1260.1,1363.5 L1262.2,1364.8 L1264.4,1366.2 L1266.5,1367.6 L1268.6,1369.1 L1270.6,1370.7 L1272.6,1372.3 L1274.6,1374.0 L1276.5,1375.7 L1278.3,1377.4 L1280.2,1379.2 L1281.9,1381.0 L1283.7,1383.0 L1285.3,1384.9 L1287.0,1386.9 L1288.6,1388.9 L1290.1,1390.9 L1291.6,1393.0 L1293.0,1395.1 L1294.4,1397.2 L1295.9,1399.4 L1297.2,1401.5 L1298.6,1403.7 L1299.9,1405.9 L1301.3,1408.1 L1302.6,1410.4 L1304.0,1412.6 L1305.2,1414.8 L1306.5,1417.0 L1307.8,1419.2 L1309.1,1421.4 L1310.3,1423.6 L1311.6,1425.7 L1312.9,1427.9 L1314.1,1430.1 L1315.5,1432.4 L1316.8,1434.6 L1318.2,1436.8 L1319.5,1439.0 L1320.9,1441.1 L1322.3,1443.4 L1323.7,1445.5 L1325.2,1447.6 L1326.7,1449.8 L1328.2,1451.8 L1329.8,1453.9 L1331.4,1455.9 L1332.9,1457.8 L1334.6,1459.8 L1336.3,1461.7 L1338.0,1463.6 L1339.8,1465.4 L1341.6,1467.2 L1343.4,1469.0 L1345.3,1470.7 L1347.2,1472.4 L1349.1,1474.1 L1351.1,1475.7 L1353.1,1477.3 L1355.1,1478.8 L1357.1,1480.4 L1359.2,1481.9 L1361.3,1483.4 L1363.3,1484.9 L1365.4,1486.3 L1367.5,1487.8 L1369.7,1489.2 L1371.8,1490.6 L1374.0,1491.9 L1376.1,1493.3 L1378.3,1494.6 L1380.5,1495.9 L1382.7,1497.1 L1384.9,1498.4 L1387.1,1499.6 L1389.4,1500.7 L1391.7,1501.9 L1394.0,1503.0 L1396.3,1504.1 L1398.6,1505.1 L1400.9,1506.1 L1403.3,1507.1 L1405.6,1508.0 L1408.0,1508.9 L1410.4,1509.8 L1412.8,1510.6 L1415.2,1511.3 L1417.7,1512.1 L1420.2,1512.7 L1422.6,1513.3 L1425.1,1513.9 L1427.5,1514.4 L1430.0,1514.9 L1432.5,1515.3 L1435.1,1515.6 L1437.6,1515.9 L1440.2,1516.2 L1442.7,1516.4 L1445.2,1516.6 L1447.8,1516.7 L1450.3,1516.8 L1452.9,1516.9 L1455.4,1517.0 L1457.9,1517.1 L1460.5,1517.1 L1463.0,1517.2 L1465.6,1517.2 L1468.1,1517.3 L1470.6,1517.3 L1473.2,1517.3 L1475.7,1517.3 L1478.3,1517.3 L1480.8,1517.3 L1483.3,1517.2 L1485.9,1517.1 L1488.4,1517.0 L1491.0,1516.9 L1493.5,1516.7 L1496.0,1516.4 L1498.6,1516.1 L1501.1,1515.8 L1503.7,1515.4 L1506.2,1515.0 L1508.7,1514.5 L1511.2,1514.1 L1513.7,1513.6 L1516.1,1513.1 L1518.6,1512.6 L1521.0,1512.1 L1523.5,1511.5 L1526.0,1511.0 L1528.4,1510.6 L1530.9,1510.1 L1533.3,1509.6 L1535.9,1509.2 L1538.4,1508.8 L1541.0,1508.3 L1543.5,1508.0 L1546.0,1507.6 L1548.6,1507.2 L1551.1,1506.8 L1553.7,1506.5 L1556.2,1506.1 L1558.7,1505.7 L1561.3,1505.4 L1563.8,1505.0 L1566.3,1504.6 L1568.9,1504.2 L1571.4,1503.7 L1573.9,1503.3 L1576.3,1502.8 L1578.8,1502.3 L1581.3,1501.8 L1583.7,1501.2 L1586.2,1500.6 L1588.7,1500.0 L1591.1,1499.3 L1593.6,1498.6 L1596.0,1497.9 L1598.5,1497.1 L1600.9,1496.3 L1603.3,1495.5 L1605.6,1494.6 L1608.0,1493.6 L1610.4,1492.6 L1612.7,1491.6 L1615.0,1490.5 L1617.3,1489.3 L1619.5,1488.1 L1621.7,1486.9 L1623.9,1485.5 L1626.0,1484.1 L1628.1,1482.7 L1630.2,1481.2 L1632.1,1479.7 L1634.1,1478.1 L1636.0,1476.5 L1637.9,1474.8 L1639.8,1473.0 L1641.7,1471.2 L1643.5,1469.4 L1645.2,1467.6 L1647.0,1465.7 L1648.7,1463.7 L1650.4,1461.8 L1652.1,1459.9 L1653.7,1457.9 L1655.3,1455.9 L1656.9,1453.9 L1658.5,1451.9 L1660.1,1449.8 L1661.6,1447.8 L1663.1,1445.8 L1664.6,1443.7 L1666.1,1441.6 L1667.6,1439.5 L1669.1,1437.4 L1670.6,1435.3 L1672.0,1433.2 L1673.4,1431.1 L1674.8,1429.0 L1676.3,1426.8 L1677.7,1424.6 L1679.0,1422.5 L1680.4,1420.4 L1681.7,1418.2 L1683.1,1416.0 L1684.4,1413.7 L1685.7,1411.5 L1687.0,1409.3 L1688.3,1407.1 L1689.5,1404.8 L1690.8,1402.5 L1692.0,1400.2 L1693.2,1397.9 L1694.4,1395.6 L1695.6,1393.3 L1696.7,1391.0 L1697.8,1388.7 L1698.9,1386.4 L1700.0,1384.0 L1701.1,1381.6 L1702.1,1379.3 L1703.2,1377.0 L1704.2,1374.6 L1705.2,1372.2 L1706.3,1369.7 L1707.3,1367.2 L1708.3,1364.9 L1709.2,1362.5 L1710.2,1360.1 L1711.1,1357.7 L1712.1,1355.2 L1713.0,1352.8 L1714.0,1350.3 L1714.9,1347.8 L1715.9,1345.3 L1716.8,1342.8 L1717.8,1340.2 L1718.7,1337.7 L1719.7,1335.2 L1720.6,1332.6 L1721.6,1330.1 L1722.5,1327.5 L1723.5,1325.0 L1724.4,1322.4 L1725.4,1319.9 L1726.3,1317.4 L1727.3,1314.9 L1728.3,1312.4 L1729.2,1309.9 L1730.2,1307.5 L1731.1,1305.0 L1732.1,1302.6 L1733.0,1300.2 L1734.0,1297.9 L1734.9,1295.6 L1735.9,1293.1 L1737.0,1290.6 L1738.0,1288.2 L1739.0,1285.9 L1740.1,1283.6 L1741.2,1281.1 L1742.3,1278.8 L1743.4,1276.4 L1744.5,1274.2 L1745.7,1271.8 L1746.9,1269.5 L1748.1,1267.2 L1749.3,1265.0 L1750.6,1262.6 L1751.8,1260.4 L1753.1,1258.2 L1754.4,1256.0 L1755.7,1253.7 L1757.1,1251.5 L1758.4,1249.4 L1759.8,1247.2 L1761.2,1245.0 L1762.6,1242.9 L1764.0,1240.7 L1765.5,1238.6 L1766.9,1236.6 L1768.4,1234.4 L1769.9,1232.3 L1771.4,1230.2 L1772.9,1228.1 L1774.4,1226.0 L1775.9,1223.9 L1777.5,1221.8 L1779.0,1219.8 L1780.5,1217.6 L1782.0,1215.5 L1783.4,1213.4 L1784.8,1211.3 L1786.3,1209.2 L1787.7,1207.0 L1789.0,1204.9 L1790.4,1202.7 L1791.7,1200.4 L1793.0,1198.2 L1794.3,1196.0 L1795.6,1193.6 L1796.7,1191.4 L1797.9,1189.0 L1799.0,1186.8 L1800.2,1184.5 L1801.3,1182.1 L1802.3,1179.8 L1803.3,1177.4 L1804.4,1175.0 L1805.4,1172.5 L1806.3,1170.1 L1807.3,1167.7 L1808.3,1165.2 L1809.1,1162.8 L1810.0,1160.4 L1810.9,1157.9 L1811.7,1155.4 L1812.6,1152.8 L1813.4,1150.4 L1814.2,1148.0 L1815.0,1145.5 L1815.8,1143.0 L1816.6,1140.5 L1817.4,1138.0 L1818.2,1135.5 L1819.0,1132.9 L1819.8,1130.3 L1820.6,1127.7 L1821.3,1125.1 L1822.1,1122.4 L1822.9,1119.8 L1823.7,1117.2 L1824.5,1114.5 L1825.3,1111.9 L1826.1,1109.2 L1826.9,1106.6 L1827.7,1103.9 L1828.5,1101.3 L1829.3,1098.7 L1830.1,1096.1 L1830.9,1093.5 L1831.7,1091.0 L1832.5,1088.4 L1833.2,1085.9 L1834.0,1083.4 L1834.8,1081.0 L1835.6,1078.5 L1836.4,1076.1 L1837.3,1073.5 L1838.2,1071.0 L1839.0,1068.5 L1839.9,1066.0 L1840.8,1063.6 L1841.7,1061.1 L1842.7,1058.6 L1843.6,1056.2 L1844.6,1053.9 L1845.6,1051.5 L1846.7,1049.1 L1847.8,1046.7 L1848.9,1044.4 L1850.0,1042.2 L1851.2,1039.8 L1852.4,1037.6 L1853.6,1035.4 L1854.9,1033.2 L1856.3,1031.0 L1857.7,1028.8 L1859.1,1026.7 L1860.6,1024.6 L1862.1,1022.5 L1863.7,1020.5 L1865.3,1018.6 L1867.0,1016.6 L1868.6,1014.7 L1870.4,1012.9 L1872.1,1011.0 L1874.0,1009.2 L1875.8,1007.3 L1877.6,1005.5 L1879.4,1003.7 L1881.3,1002.0 L1883.1,1000.2 L1884.9,998.3 L1886.7,996.5 L1888.5,994.7 L1890.2,992.8 L1892.0,990.9 L1893.6,989.1 L1895.3,987.1 L1897.0,985.2 L1898.6,983.2 L1900.2,981.1 L1901.7,979.1 L1903.2,977.0 L1904.6,975.0 L1906.0,972.8 L1907.5,970.6 L1908.8,968.4 L1910.2,966.2 L1911.4,963.9 L1912.7,961.7 L1913.9,959.4 L1915.1,957.2 L1916.3,954.8 L1917.5,952.4 L1918.6,950.1 L1919.7,947.8 L1920.8,945.5 L1921.9,943.1 L1923.0,940.6 L1924.0,938.3 L1925.1,936.0 L1926.1,933.7 L1927.1,931.3 L1928.2,929.0 L1929.2,926.6 L1930.2,924.2 L1931.3,921.8 L1932.3,919.4 L1933.3,917.0 L1934.4,914.6 L1935.4,912.2 L1936.4,909.8 L1937.5,907.4 L1938.5,905.0 L1939.5,902.6 L1940.5,900.2 L1941.6,897.9 L1942.6,895.6 L1943.6,893.3 L1944.7,891.0 L1945.8,888.6 L1946.9,886.2 L1948.0,883.8 L1949.1,881.5 L1950.2,879.2 L1951.3,876.9 L1952.5,874.6 L1953.7,872.2 L1954.9,869.9 L1956.1,867.6 L1957.3,865.3 L1958.5,863.1 L1959.7,860.8 L1960.9,858.5 L1962.2,856.2 L1963.5,853.9 L1964.8,851.6 L1966.0,849.4 L1967.3,847.2 L1968.6,844.9 L1969.8,842.7 L1971.1,840.5 L1972.4,838.4 L1973.6,836.2 L1974.9,834.0 L1976.2,831.8 L1977.5,829.7 L1978.7,827.5 L1980.0,825.4 L1981.3,823.2 L1982.5,821.0 L1983.8,818.8 L1985.1,816.7 L1986.3,814.5 L1987.6,812.3 L1988.9,810.1 L1990.2,807.8 L1991.4,805.6 L1992.7,803.3 L1994.0,801.1 L1995.2,798.8 L1996.5,796.5 L1997.8,794.2 L1999.0,791.8 L2000.2,789.6 L2001.4,787.4 L2002.6,785.1 L2003.8,782.8 L2005.0,780.5 L2006.2,778.2 L2007.4,775.8 L2008.6,773.5 L2009.7,771.2 L2010.8,768.9 L2011.9,766.6 L2013.0,764.3 L2014.1,762.0 L2015.2,759.6 L2016.3,757.2 L2017.5,754.7 L2018.5,752.5 L2019.5,750.2 L2020.5,747.8 L2021.6,745.5 L2022.6,743.2 L2023.6,740.8 L2024.7,738.4 L2025.7,736.1 L2026.7,733.7 L2027.8,731.3 L2028.8,728.9 L2029.8,726.5 L2030.9,724.2 L2031.9,721.8 L2032.9,719.4 L2034.0,717.0 L2035.0,714.7 L2036.0,712.3 L2037.1,710.0 L2038.1,707.7 L2039.1,705.4 L2040.2,703.1 L2041.3,700.7 L2042.4,698.3 L2043.5,695.9 L2044.6,693.5 L2045.7,691.2 L2046.8,689.0 L2048.0,686.6 L2049.2,684.2 L2050.4,681.9 L2051.6,679.7 L2052.8,677.3 L2054.1,675.1 L2055.4,672.8 L2056.7,670.6 L2058.0,668.4 L2059.4,666.1 L2060.7,664.0 L2062.1,661.9 L2063.5,659.7 L2064.9,657.5 L2066.3,655.4 L2067.8,653.3 L2069.3,651.2 L2070.8,649.1 L2072.3,647.0 L2073.8,645.0 L2075.3,643.0 L2076.9,640.9 L2078.5,638.8 L2080.1,636.8 L2081.7,634.7 L2083.2,632.7 L2084.8,630.7 L2086.4,628.7 L2088.0,626.7 L2089.6,624.7 L2091.2,622.7 L2092.8,620.6 L2094.4,618.6 L2095.9,616.6 L2097.5,614.5 L2099.1,612.4 L2100.6,610.4 L2102.1,608.4 L2103.6,606.3 L2105.2,604.2 L2106.7,602.1 L2108.2,599.9 L2109.6,597.9 L2111.0,595.7 L2112.5,593.6 L2113.9,591.4 L2115.2,589.3 L2116.6,587.1 L2117.9,584.9 L2119.3,582.7 L2120.6,580.4 L2121.9,578.2 L2123.2,576.0 L2124.4,573.7 L2125.7,571.4 L2126.9,569.2 L2128.1,567.0 L2129.3,564.7 L2130.5,562.4 L2131.7,560.1 L2132.8,557.7 L2134.0,555.3 L2135.1,553.1 L2136.3,550.8 L2137.4,548.5 L2138.5,546.1 L2139.6,543.8 L2140.7,541.4 L2141.8,539.0 L2142.9,536.5 L2144.0,534.2 L2145.0,531.9 L2146.0,529.6 L2147.1,527.3 L2148.1,524.9 L2149.1,522.5 L2150.1,520.1 L2151.2,517.7 L2152.2,515.3 L2153.2,512.8 L2153.3,512.6" fill="none" stroke="#7570b3" stroke-width="12.8" stroke-linejoin="round"/>
<line x1="1924" y1="174.3" x2="2118" y2="174.3" stroke="#1b9e77" stroke-width="12.8"/>
<text transform="translate(2154.50,204.20) scale(1.08,1)" x="0.00" text-anchor="middle" class="l">I</text>
<line x1="1924" y1="280.8" x2="2118" y2="280.8" stroke="#d95f02" stroke-width="12.8"/>
<text transform="translate(2154.50,309.90) scale(1.08,1)" x="0.00 25.23" text-anchor="middle" class="l">II</text>
<line x1="1924" y1="387.3" x2="2118" y2="387.3" stroke="#7570b3" stroke-width="12.8"/>
<text transform="translate(2154.50,415.90) scale(1.08,1)" x="0.00 25.23 50.46" text-anchor="middle" class="l">III</text>
<text x="1159.84" y="1965.8" class="a" style="font-size:87.0px">Height %</text>
<text transform="translate(97.2,1367.97) rotate(-90)" class="a" style="font-size:86.67px">Voids area ratio of circle/%</text>
</svg>
</body></html>
